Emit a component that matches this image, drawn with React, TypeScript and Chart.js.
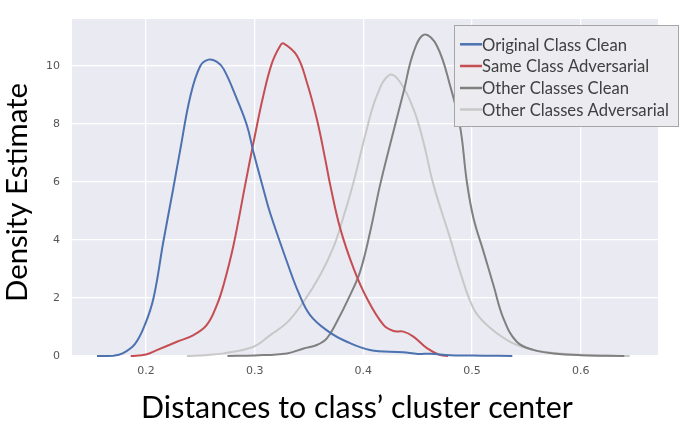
import React, { useEffect, useRef } from "react";
import { Chart, registerables } from "chart.js";
Chart.register(...registerables);

const xTicks = [0.2, 0.3, 0.4, 0.5, 0.6];
const yTicks = [0, 2, 4, 6, 8, 10];
const xTitle = "Distances to class\u2019 cluster center";
const yTitle = "Density Estimate";
const seriesNames = [
  "Original Class Clean",
  "Same Class Adversarial",
  "Other Classes Clean",
  "Other Classes Adversarial",
];
const seriesColors = ["#4C72B0", "#C44E52", "#808080", "#C8C8C8"];

const blueX = [0.155, 0.17, 0.179, 0.19, 0.199, 0.207, 0.216, 0.225, 0.2315, 0.241, 0.25, 0.2576, 0.265, 0.2714, 0.2837, 0.293, 0.299, 0.308, 0.3143, 0.3297, 0.34, 0.351, 0.368, 0.3848, 0.406, 0.4366, 0.45, 0.4614, 0.48, 0.51, 0.537];
const blueY = [0, 0.01, 0.1, 0.42, 1.07, 2.0, 3.94, 5.75, 7.1, 8.98, 10.0, 10.22, 10.15, 9.9, 8.86, 7.94, 7.02, 5.76, 4.92, 3.25, 2.22, 1.41, 0.84, 0.49, 0.21, 0.13, 0.07, 0.08, 0.03, 0.01, 0];

const redX = [0.186, 0.2, 0.21, 0.2285, 0.2438, 0.256, 0.2653, 0.2714, 0.2806, 0.2913, 0.299, 0.308, 0.3159, 0.3235, 0.3265, 0.3388, 0.348, 0.3572, 0.3649, 0.3695, 0.3787, 0.391, 0.4032, 0.4185, 0.4277, 0.4369, 0.446, 0.4584, 0.4706, 0.478];
const redY = [0, 0.05, 0.2, 0.49, 0.72, 1.07, 1.76, 2.45, 3.83, 5.9, 7.37, 8.98, 10.1, 10.7, 10.78, 10.36, 9.44, 8.17, 6.79, 5.9, 4.4, 3.02, 1.99, 1.07, 0.86, 0.84, 0.67, 0.27, 0.03, 0];

const darkX = [0.275, 0.3, 0.3297, 0.345, 0.3572, 0.3664, 0.3756, 0.3878, 0.397, 0.4063, 0.4154, 0.4277, 0.4369, 0.4461, 0.4559, 0.4676, 0.4798, 0.489, 0.4952, 0.5013, 0.5105, 0.5196, 0.5288, 0.5411, 0.5564, 0.5748, 0.6, 0.64];
const darkY = [0, 0.02, 0.09, 0.26, 0.38, 0.61, 1.18, 2.1, 2.91, 4.29, 5.9, 7.75, 9.09, 10.47, 11.08, 10.7, 9.32, 7.9, 6.0, 4.75, 3.6, 2.45, 1.3, 0.49, 0.21, 0.09, 0.03, 0];

const lightX = [0.2377, 0.255, 0.2714, 0.299, 0.3143, 0.3297, 0.345, 0.3603, 0.3725, 0.3817, 0.391, 0.4032, 0.4124, 0.424, 0.4339, 0.4461, 0.4553, 0.4645, 0.4798, 0.489, 0.5013, 0.5136, 0.535, 0.5564, 0.581, 0.61, 0.645];
const lightY = [0, 0.03, 0.09, 0.32, 0.72, 1.15, 1.87, 2.79, 3.75, 4.8, 6.0, 7.83, 8.98, 9.69, 9.44, 8.52, 7.37, 5.9, 4.06, 2.9, 1.64, 1.07, 0.49, 0.21, 0.09, 0.03, 0];

const seriesX = [blueX, redX, darkX, lightX];
const seriesY = [blueY, redY, darkY, lightY];

function fitFont(ctx: CanvasRenderingContext2D, text: string, family: string, target: number) {
  ctx.font = `100px ${family}`;
  const w = ctx.measureText(text).width;
  return (100 * target) / w;
}

const decorPlugin = {
  id: "decor",
  beforeDraw(chart: any) {
    const { ctx, chartArea } = chart;
    ctx.save();
    ctx.fillStyle = "#EAEAF2";
    ctx.fillRect(chartArea.left, chartArea.top, chartArea.right - chartArea.left, chartArea.bottom - chartArea.top);
    ctx.restore();
  },
  afterDraw(chart: any) {
    const { ctx } = chart;
    const fam = "Lato, 'Open Sans', sans-serif";
    ctx.save();
    ctx.fillStyle = "#000";
    ctx.textAlign = "center";
    ctx.textBaseline = "alphabetic";
    let fs = fitFont(ctx, xTitle, fam, 432);
    ctx.font = `${fs}px ${fam}`;
    ctx.fillText(xTitle, 357, 418);
    fs = fitFont(ctx, yTitle, fam, 219);
    ctx.font = `${fs}px ${fam}`;
    ctx.translate(27, 192.5);
    ctx.rotate(-Math.PI / 2);
    ctx.fillText(yTitle, 0, 0);
    ctx.restore();

    ctx.save();
    ctx.fillStyle = "#EBEBF0";
    ctx.strokeStyle = "#A6A6A6";
    ctx.lineWidth = 1;
    ctx.fillRect(454, 25, 225, 102);
    ctx.strokeRect(454.5, 25.5, 224, 101);
    const lfs = fitFont(ctx, seriesNames[3], fam, 187);
    ctx.font = `${lfs}px ${fam}`;
    ctx.textAlign = "left";
    ctx.textBaseline = "middle";
    const ys = [44.3, 66, 88, 109.5];
    seriesNames.forEach((n, i) => {
      ctx.strokeStyle = seriesColors[i];
      ctx.lineWidth = 2.5;
      ctx.beginPath();
      ctx.moveTo(460, ys[i]);
      ctx.lineTo(482, ys[i]);
      ctx.stroke();
      ctx.fillStyle = "#404040";
      ctx.fillText(n, 482, ys[i] + 1);
    });
    ctx.restore();
  },
};

export default function App() {
  const ref = useRef<HTMLCanvasElement>(null);
  useEffect(() => {
    if (!ref.current) return;
    const datasets = seriesNames.map((name, i) => ({
      label: name,
      data: seriesX[i].map((x, j) => ({ x, y: seriesY[i][j] })),
      borderColor: seriesColors[i],
      backgroundColor: seriesColors[i],
      borderWidth: 2,
      pointRadius: 0,
      tension: 0.4,
      fill: false,
      clip: 4,
    }));
    const chart = new Chart(ref.current, {
      type: "line",
      data: { datasets },
      plugins: [decorPlugin],
      options: {
        animation: false,
        responsive: false,
        parsing: false as any,
        layout: { padding: { left: 0, top: 19, right: 27, bottom: 0 } },
        plugins: { legend: { display: false }, tooltip: { enabled: false } },
        scales: {
          x: {
            type: "linear",
            min: 0.132,
            max: 0.671,
            afterBuildTicks: (s: any) => {
              s.ticks = xTicks.map((v) => ({ value: v }));
            },
            afterFit: (s: any) => {
              s.height = 67;
            },
            ticks: {
              callback: (v: any) => Number(v).toFixed(1),
              font: { family: "'DejaVu Sans'", size: 11 },
              color: "#555555",
              padding: 9,
              maxRotation: 0,
            },
            grid: { color: "#FFFFFF", lineWidth: 1.3, drawTicks: false },
            border: { display: false },
          },
          y: {
            type: "linear",
            min: 0,
            max: 11.62,
            afterBuildTicks: (s: any) => {
              s.ticks = yTicks.map((v) => ({ value: v }));
            },
            afterFit: (s: any) => {
              s.width = 72;
            },
            ticks: {
              font: { family: "'DejaVu Sans'", size: 11 },
              color: "#555555",
              padding: 12,
            },
            grid: { color: "#FFFFFF", lineWidth: 1.3, drawTicks: false },
            border: { display: false },
          },
        },
      },
    });
    return () => chart.destroy();
  }, []);
  return (
    <div style={{ position: "absolute", left: 0, top: 0, width: 685, height: 423, background: "#fff" }}>
      <canvas ref={ref} width={685} height={423} style={{ width: 685, height: 423 }} />
    </div>
  );
}
